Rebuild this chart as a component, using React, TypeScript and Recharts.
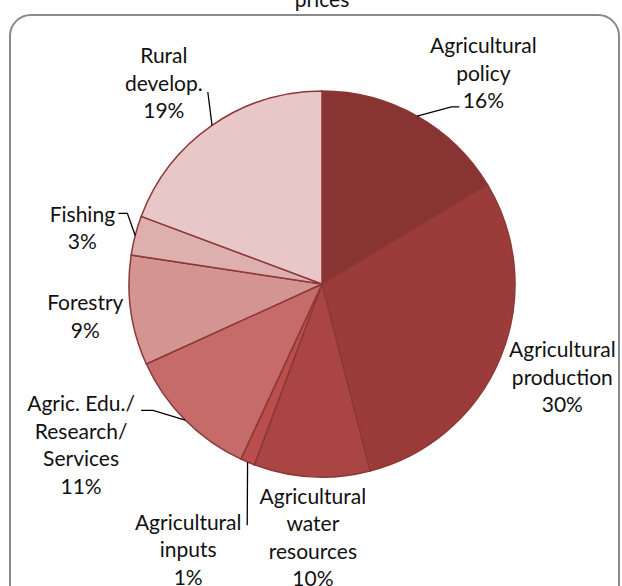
import { PieChart, Pie, Cell } from 'recharts';

const categories = [
  'Agricultural\npolicy',
  'Agricultural\nproduction',
  'Agricultural\nwater\nresources',
  'Agricultural\ninputs',
  'Agric. Edu./\nResearch/\nServices',
  'Forestry',
  'Fishing',
  'Rural\ndevelop.',
];
const shares = [16.4, 29.6, 9.7, 1.2, 11.3, 9.2, 3.3, 19.3];
const COLORS = ['#873432', '#9b3c3a', '#a94644', '#ba4e4c', '#c56b6a', '#d39492', '#ddb0af', '#e7c7c7'];

// label placement: distance from centre, clockwise shift from the slice mid angle,
// leader line elbow/end points relative to the label centre (null = no leader)
const LABEL_LAYOUT = [
  { dist: 265, shift: 8, leader: [-32, 33, -24, 33] },
  { dist: 258, shift: -1, leader: null },
  { dist: 254, shift: -1, leader: null },
  { dist: 298, shift: 4, leader: [59, -25, 59, -25] },
  { dist: 290, shift: 11, leader: [72, -35, 60, -35] },
  { dist: 239, shift: 0, leader: null },
  { dist: 246, shift: -1.5, leader: [45, -15, 36, -15] },
  { dist: 255, shift: -3.6, leader: [44, 8, 44, 8] },
];

const data = categories.map((name, i) => ({ name, value: shares[i] }));

const RAD = Math.PI / 180;
const LINE_H = 27.5;

function renderLabel(props: any) {
  const { cx, cy, midAngle, outerRadius, percent, index } = props;
  const lay = LABEL_LAYOUT[index];
  const a = (midAngle - lay.shift) * RAD;
  const lx = cx + lay.dist * Math.cos(a);
  const ly = cy - lay.dist * Math.sin(a);
  const lines = [...categories[index].split('\n'), `${Math.round(percent * 100)}%`];
  const y0 = ly - ((lines.length - 1) * LINE_H) / 2 + 7;

  let leader = null;
  if (lay.leader) {
    const ex = cx + outerRadius * Math.cos(midAngle * RAD);
    const ey = cy - outerRadius * Math.sin(midAngle * RAD);
    const [bx, by, tx, ty] = lay.leader;
    leader = (
      <polyline
        points={`${ex},${ey} ${lx + bx},${ly + by} ${lx + tx},${ly + ty}`}
        fill="none"
        stroke="#000"
        strokeWidth={1.3}
      />
    );
  }

  return (
    <g key={`lbl-${index}`}>
      {leader}
      <text x={lx} y={y0} textAnchor="middle" fill="#111" fontSize={21} fontFamily="Lato, sans-serif">
        {lines.map((t, i) => (
          <tspan key={i} x={lx} y={y0 + i * LINE_H}>
            {t}
          </tspan>
        ))}
      </text>
    </g>
  );
}

export default function App() {
  return (
    <div style={{ position: 'absolute', left: 0, top: 0, width: 622, height: 586, overflow: 'hidden', background: '#fff' }}>
      <div
        style={{
          position: 'absolute',
          left: 9,
          top: 14,
          width: 607,
          height: 600,
          border: '2px solid #8a8a8a',
          borderRadius: 22,
        }}
      />
      <div
        style={{
          position: 'absolute',
          left: 222,
          width: 200,
          top: -11,
          lineHeight: '20px',
          textAlign: 'center',
          fontFamily: 'Lato, sans-serif',
          fontSize: 21,
          color: '#111',
        }}
      >
        prices
      </div>
      <PieChart
        width={622}
        height={586}
        margin={{ top: 0, right: 0, bottom: 0, left: 0 }}
        style={{ position: 'absolute', left: 0, top: 0 }}
      >
        <Pie
          data={data}
          dataKey="value"
          nameKey="name"
          cx={322}
          cy={284}
          outerRadius={193}
          startAngle={90}
          endAngle={-270}
          stroke="#8c3836"
          strokeWidth={1.5}
          label={renderLabel}
          labelLine={false}
          isAnimationActive={false}
        >
          {data.map((d, i) => (
            <Cell key={d.name} fill={COLORS[i]} />
          ))}
        </Pie>
      </PieChart>
    </div>
  );
}
